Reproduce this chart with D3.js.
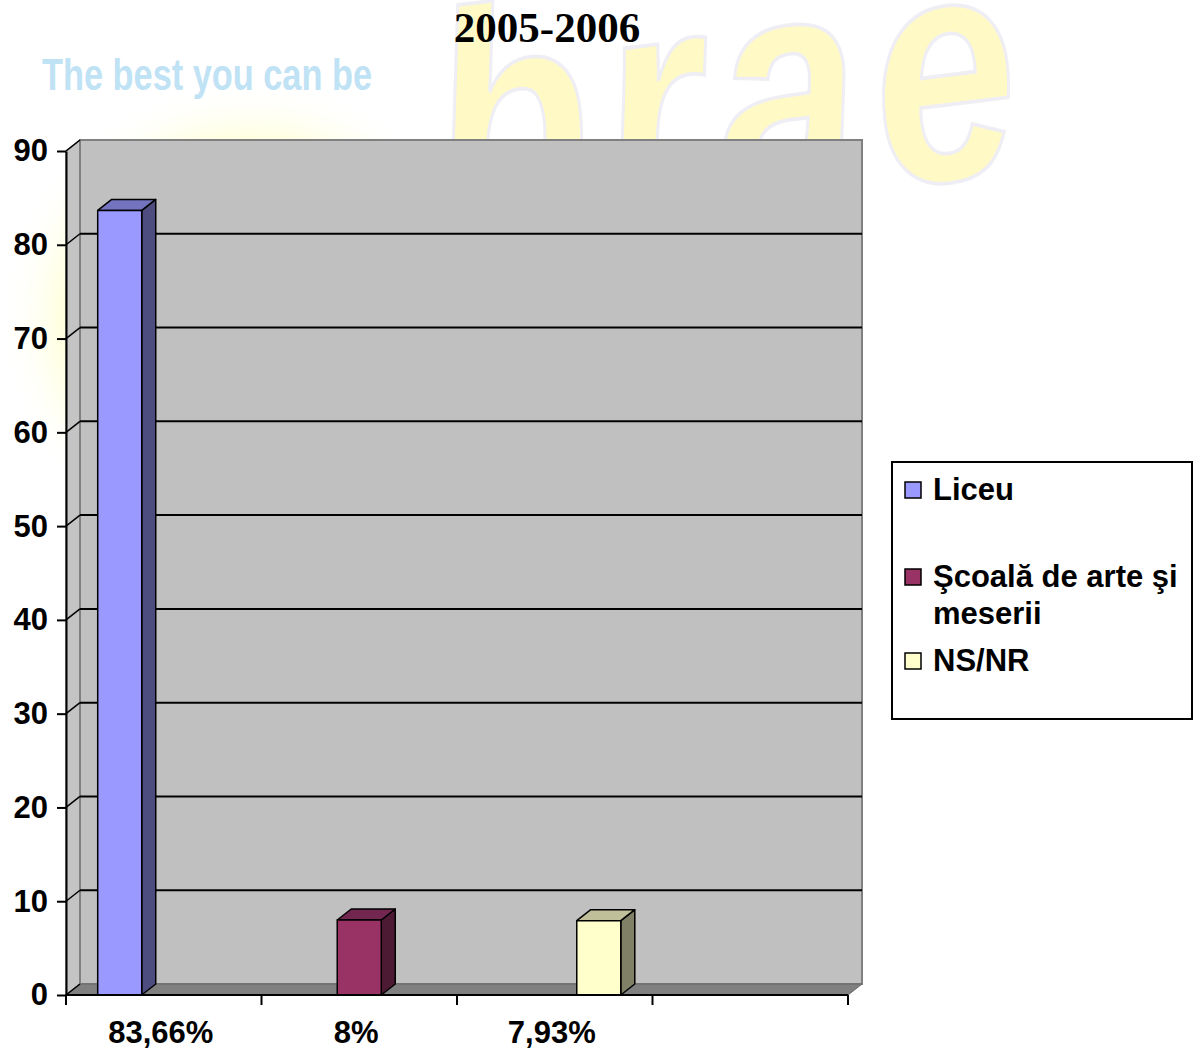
<!DOCTYPE html>
<html>
<head>
<meta charset="utf-8">
<script src="https://cdn.jsdelivr.net/npm/d3@7"></script>
<style>
  body { margin: 0; background: #fff; }
  svg { display: block; }
</style>
</head>
<body>
<div id="chart"></div>
<script>
// Datos del gráfico
const title = "2005-2006";
const categories = ["83,66%", "8%", "7,93%", ""];
const seriesNames = ["Liceu", "Şcoală de arte şi meserii", "NS/NR"];
const liceuValues = [83.66, 0, 0, 0];
const scoalaValues = [0, 8, 0, 0];
const nsnrValues = [0, 0, 7.93, 0];
const yTicks = [0, 10, 20, 30, 40, 50, 60, 70, 80, 90];

const seriesValues = [liceuValues, scoalaValues, nsnrValues];
const colors = [
  { front: "#9999FF", side: "#4D4D80", top: "#7373BF" },
  { front: "#993366", side: "#4D1A33", top: "#732650" },
  { front: "#FFFFCC", side: "#808066", top: "#BFBF99" }
];

const W = 1197, H = 1051;
const left = 66, right = 848, bottom = 995, topY = 151;
const dx = 14, dy = -11; // profundidad 3D

const svg = d3.select("#chart").append("svg")
  .attr("width", W).attr("height", H);

// Marca de agua de fondo
const defs = svg.append("defs");
const glow = defs.append("radialGradient").attr("id", "glow");
glow.append("stop").attr("offset", "0%").attr("stop-color", "#FFFFC0");
glow.append("stop").attr("offset", "70%").attr("stop-color", "#FFFFD0");
glow.append("stop").attr("offset", "100%").attr("stop-color", "#FFFFFF").attr("stop-opacity", 0);
svg.append("ellipse").attr("cx", 250).attr("cy", 320).attr("rx", 250).attr("ry", 240)
  .attr("fill", "url(#glow)");
svg.append("text")
  .attr("transform", "translate(445,242) rotate(-7) scale(1,1.25)")
  .attr("font-family", "Liberation Sans, Arial, sans-serif")
  .attr("font-weight", "bold").attr("font-style", "italic")
  .attr("font-size", 258).attr("letter-spacing", 14)
  .attr("fill", "#FFF9C6").attr("stroke", "#EEEEF4").attr("stroke-width", 3)
  .text("brae");
svg.append("text")
  .attr("x", 42).attr("y", 90)
  .attr("font-family", "Liberation Sans Narrow, Arial Narrow, sans-serif")
  .attr("font-weight", "bold").attr("font-size", 44)
  .attr("textLength", 330).attr("lengthAdjust", "spacingAndGlyphs")
  .attr("fill", "#B5DDF3").attr("opacity", 0.85)
  .text("The best you can be");

// Escalas
const y = d3.scaleLinear().domain([0, 90]).range([bottom, topY]);
const x = d3.scaleBand().domain(categories.map((d, i) => i)).range([left, right]);
const xs = d3.scaleBand().domain(d3.range(seriesNames.length))
  .range([0, x.bandwidth()]).paddingInner(0).paddingOuter(0.72);

const pts = p => p.map(d => d.join(",")).join(" ");

// Paredes y piso
svg.append("polygon")
  .attr("points", pts([[left, y(90)], [left + dx, y(90) + dy], [left + dx, y(0) + dy], [left, y(0)]]))
  .attr("fill", "#C4C4C4").attr("stroke", "#808080").attr("stroke-width", 1.5);
svg.append("rect")
  .attr("x", left + dx).attr("y", y(90) + dy)
  .attr("width", right - left).attr("height", y(0) - y(90))
  .attr("fill", "#C0C0C0").attr("stroke", "#808080").attr("stroke-width", 2);
svg.append("polygon")
  .attr("points", pts([[left, y(0)], [left + dx, y(0) + dy], [right + dx, y(0) + dy], [right, y(0)]]))
  .attr("fill", "#808080").attr("stroke", "#666").attr("stroke-width", 1);

// Líneas de cuadrícula
const grid = svg.append("g");
yTicks.filter(d => d > 0 && d < 90).forEach(t => {
  grid.append("line")
    .attr("x1", left + dx).attr("x2", right + dx)
    .attr("y1", y(t) + dy).attr("y2", y(t) + dy)
    .attr("stroke", "#000").attr("stroke-width", 2);
});
yTicks.forEach(t => {
  grid.append("line")
    .attr("x1", left).attr("y1", y(t))
    .attr("x2", left + dx).attr("y2", y(t) + dy)
    .attr("stroke", "#000").attr("stroke-width", 1.5);
});

// Barras 3D
const bars = svg.append("g");
seriesValues.forEach((vals, s) => {
  vals.forEach((v, c) => {
    if (!v) return;
    const x0 = x(c) + xs(s), x1 = x0 + xs.bandwidth();
    const yt = y(v), yb = y(0);
    const g = bars.append("g")
      .attr("stroke", "#000").attr("stroke-width", 1.5).attr("stroke-linejoin", "round");
    g.append("polygon")
      .attr("points", pts([[x1, yb], [x1 + dx, yb + dy], [x1 + dx, yt + dy], [x1, yt]]))
      .attr("fill", colors[s].side);
    g.append("polygon")
      .attr("points", pts([[x0, yt], [x0 + dx, yt + dy], [x1 + dx, yt + dy], [x1, yt]]))
      .attr("fill", colors[s].top);
    g.append("rect")
      .attr("x", x0).attr("y", yt).attr("width", x1 - x0).attr("height", yb - yt)
      .attr("fill", colors[s].front);
  });
});

// Eje Y
const yAxis = svg.append("g")
  .attr("transform", `translate(${left},0)`)
  .call(d3.axisLeft(y).tickValues(yTicks).tickSize(9).tickSizeOuter(0).tickPadding(9));
yAxis.select(".domain").attr("stroke", "#000").attr("stroke-width", 2);
yAxis.selectAll(".tick line").attr("stroke", "#000").attr("stroke-width", 2);
yAxis.selectAll("text")
  .attr("font-family", "Liberation Sans, Arial, sans-serif")
  .attr("font-weight", "bold").attr("font-size", 31).attr("fill", "#000");

// Eje X
const xAxis = svg.append("g");
xAxis.append("line")
  .attr("x1", left).attr("x2", right).attr("y1", bottom).attr("y2", bottom)
  .attr("stroke", "#000").attr("stroke-width", 2);
categories.map((d, i) => x(i)).concat([right]).forEach(px => {
  xAxis.append("line")
    .attr("x1", px).attr("x2", px).attr("y1", bottom).attr("y2", bottom + 10)
    .attr("stroke", "#000").attr("stroke-width", 2);
});
xAxis.selectAll("text.cat")
  .data(categories)
  .enter().append("text")
  .attr("class", "cat")
  .attr("x", (d, i) => x(i) + x.bandwidth() / 2 - 3)
  .attr("y", 1043)
  .attr("text-anchor", "middle")
  .attr("font-family", "Liberation Sans, Arial, sans-serif")
  .attr("font-weight", "bold").attr("font-size", 31)
  .text(d => d);

// Leyenda
const legend = svg.append("g");
legend.append("rect")
  .attr("x", 892).attr("y", 462).attr("width", 300).attr("height", 257)
  .attr("fill", "#fff").attr("stroke", "#000").attr("stroke-width", 2);
const legendLines = [["Liceu"], ["Şcoală de arte şi", "meserii"], ["NS/NR"]];
const legendY = [500, 587, 671];
seriesNames.forEach((name, i) => {
  legend.append("rect")
    .attr("x", 905).attr("y", legendY[i] - 18).attr("width", 16).attr("height", 16)
    .attr("fill", colors[i].front).attr("stroke", "#000").attr("stroke-width", 1.5);
  const t = legend.append("text")
    .attr("x", 933).attr("y", legendY[i])
    .attr("font-family", "Liberation Sans, Arial, sans-serif")
    .attr("font-weight", "bold").attr("font-size", 31);
  legendLines[i].forEach((line, j) => {
    t.append("tspan").attr("x", 933).attr("dy", j ? 37 : 0).text(line);
  });
});

// Título
svg.append("text")
  .attr("x", 547).attr("y", 42)
  .attr("text-anchor", "middle")
  .attr("font-family", "Liberation Serif, Times New Roman, serif")
  .attr("font-weight", "bold").attr("font-size", 43)
  .text(title);
</script>
</body>
</html>
